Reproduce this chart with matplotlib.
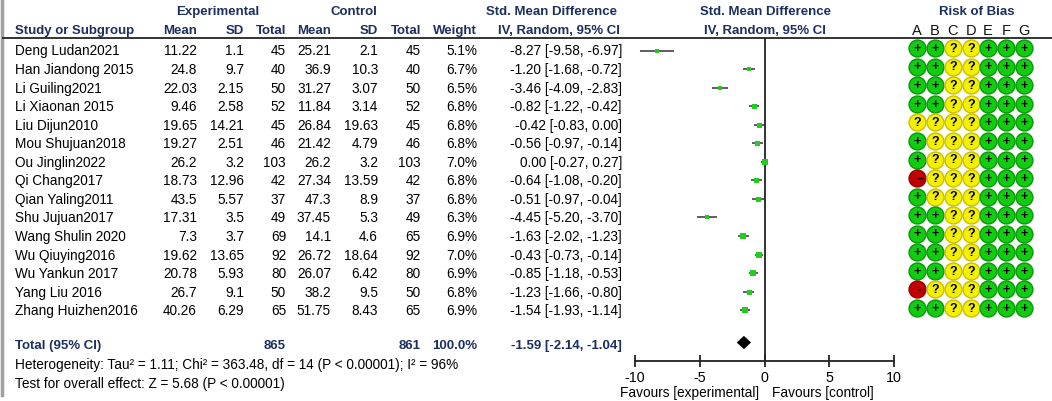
import numpy as np
import matplotlib.pyplot as plt

plt.rcParams['font.family'] = ['Liberation Sans', 'DejaVu Sans']
plt.rcParams['axes.unicode_minus'] = False

#============================================================================#
# DATA
studies = ["Deng Ludan2021", "Han Jiandong 2015", "Li Guiling2021", "Li Xiaonan 2015",
           "Liu Dijun2010", "Mou Shujuan2018", "Ou Jinglin2022", "Qi Chang2017",
           "Qian Yaling2011", "Shu Jujuan2017", "Wang Shulin 2020", "Wu Qiuying2016",
           "Wu Yankun 2017", "Yang Liu 2016", "Zhang Huizhen2016"]
exp_mean = [11.22, 24.8, 22.03, 9.46, 19.65, 19.27, 26.2, 18.73, 43.5, 17.31, 7.3, 19.62, 20.78, 26.7, 40.26]
exp_sd = [1.1, 9.7, 2.15, 2.58, 14.21, 2.51, 3.2, 12.96, 5.57, 3.5, 3.7, 13.65, 5.93, 9.1, 6.29]
exp_n = [45, 40, 50, 52, 45, 46, 103, 42, 37, 49, 69, 92, 80, 50, 65]
ctl_mean = [25.21, 36.9, 31.27, 11.84, 26.84, 21.42, 26.2, 27.34, 47.3, 37.45, 14.1, 26.72, 26.07, 38.2, 51.75]
ctl_sd = [2.1, 10.3, 3.07, 3.14, 19.63, 4.79, 3.2, 13.59, 8.9, 5.3, 4.6, 18.64, 6.42, 9.5, 8.43]
ctl_n = [45, 40, 50, 52, 45, 46, 103, 42, 37, 49, 65, 92, 80, 50, 65]
weight = [5.1, 6.7, 6.5, 6.8, 6.8, 6.8, 7.0, 6.8, 6.8, 6.3, 6.9, 7.0, 6.9, 6.8, 6.9]
smd = [-8.27, -1.20, -3.46, -0.82, -0.42, -0.56, 0.00, -0.64, -0.51, -4.45, -1.63, -0.43, -0.85, -1.23, -1.54]
ci_lo = [-9.58, -1.68, -4.09, -1.22, -0.83, -0.97, -0.27, -1.08, -0.97, -5.20, -2.02, -0.73, -1.18, -1.66, -1.93]
ci_hi = [-6.97, -0.72, -2.83, -0.42, 0.00, -0.14, 0.27, -0.20, -0.04, -3.70, -1.23, -0.14, -0.53, -0.80, -1.14]

total_exp = 865
total_ctl = 861
total_smd, total_lo, total_hi = -1.59, -2.14, -1.04

# risk of bias, columns A..G  (+ low, ? unclear, - high)
rob_cols = ["A", "B", "C", "D", "E", "F", "G"]
rob = ["++??+++", "++??+++", "++??+++", "++??+++", "????+++",
       "+???+++", "+???+++", "-???+++", "+???+++", "++??+++",
       "++??+++", "++??+++", "++??+++", "-???+++", "++??+++"]

xticks = [-10, -5, 0, 5, 10]

heterogeneity = "Heterogeneity: Tau\u00b2 = 1.11; Chi\u00b2 = 363.48, df = 14 (P < 0.00001); I\u00b2 = 96%"
overall = "Test for overall effect: Z = 5.68 (P < 0.00001)"

#============================================================================#
# LAYOUT (pixel columns, row units vertically)
W, H = 1052, 402
ROW0, DROW = 51.5, 18.55
def row(ypx):
    return (ypx - ROW0) / DROW

navy = '#1c2f5e'
fs = 9.8
hfs = 9.5

fig = plt.figure(figsize=(W / 100, H / 100), dpi=100)
tab = fig.add_axes([0, 0, 1, 1])
tab.set_xlim(0, W)
tab.set_ylim(row(H), row(0))
tab.axis('off')

# left border and header rule
tab.plot([1.5, 1.5], [row(0), row(396)], color='#a0a0a0', lw=2.5)
tab.plot([3, W], [row(38.5), row(38.5)], color='#333333', lw=1.4)

# headers
hdr = dict(fontsize=hfs, fontweight='bold', color=navy, va='center')
tab.text(218, row(12.5), "Experimental", ha='center', **hdr)
tab.text(354, row(12.5), "Control", ha='center', **hdr)
tab.text(551, row(12.5), "Std. Mean Difference", ha='center', **hdr)
tab.text(765, row(12.5), "Std. Mean Difference", ha='center', **hdr)
tab.text(977, row(12.5), "Risk of Bias", ha='center', **hdr)
tab.text(15, row(31), "Study or Subgroup", ha='left', **hdr)
col_x = [197, 244, 286, 331, 378, 421, 477]
for x, lab in zip(col_x, ["Mean", "SD", "Total", "Mean", "SD", "Total", "Weight"]):
    tab.text(x, row(31), lab, ha='right', **hdr)
tab.text(559, row(31), "IV, Random, 95% CI", ha='center', **hdr)
tab.text(765, row(31), "IV, Random, 95% CI", ha='center', **hdr)
rob_x = [917, 935, 953, 971, 988, 1006, 1024]
for x, lab in zip(rob_x, rob_cols):
    tab.text(x, row(31), lab, ha='center', fontsize=hfs + 1, color='#111111', va='center')

# study rows
for i, name in enumerate(studies):
    vals = [f"{exp_mean[i]:g}", f"{exp_sd[i]:g}", f"{exp_n[i]}",
            f"{ctl_mean[i]:g}", f"{ctl_sd[i]:g}", f"{ctl_n[i]}", f"{weight[i]:.1f}%"]
    tab.text(15, i, name, ha='left', va='center', fontsize=fs)
    for x, v in zip(col_x, vals):
        tab.text(x, i, v, ha='right', va='center', fontsize=fs)
    tab.text(622, i, f"{smd[i]:.2f} [{ci_lo[i]:.2f}, {ci_hi[i]:.2f}]",
             ha='right', va='center', fontsize=fs)

# total row
ytot = row(346)
tot = dict(fontsize=hfs, fontweight='bold', color=navy, va='center')
tab.text(15, ytot, "Total (95% CI)", ha='left', **tot)
tab.text(col_x[2], ytot, f"{total_exp}", ha='right', **tot)
tab.text(col_x[5], ytot, f"{total_ctl}", ha='right', **tot)
tab.text(col_x[6], ytot, "100.0%", ha='right', **tot)
tab.text(622, ytot, f"{total_smd:.2f} [{total_lo:.2f}, {total_hi:.2f}]", ha='right', **tot)
tab.text(15, row(365), heterogeneity, ha='left', va='center', fontsize=fs)
tab.text(15, row(384), overall, ha='left', va='center', fontsize=fs)

# risk of bias dots
fills = {'+': '#12cc12', '?': '#f4f000', '-': '#c00000'}
edges = {'+': '#089808', '?': '#cabf00', '-': '#a00000'}
for i, marks in enumerate(rob):
    for x, m in zip(rob_x, marks):
        tab.scatter(x, i - 0.12, s=148, color=fills[m], edgecolors=edges[m],
                    linewidths=1.0, zorder=3)
        if m == '-':
            tab.text(x + 4, i - 0.14, "\u2013", ha='center', va='center',
                     fontsize=8.5, fontweight='bold', zorder=4)
        else:
            tab.text(x, i - 0.14, m, ha='center', va='center',
                     fontsize=9, fontweight='bold', zorder=4)

#============================================================================#
# FOREST PANEL
fx0, fx1 = 635, 894
ax = fig.add_axes([fx0 / W, 0, (fx1 - fx0) / W, 1])
ax.set_xlim(-10, 10)
ax.set_ylim(row(H), row(0))
ax.patch.set_alpha(0)
for s in ['left', 'right', 'top']:
    ax.spines[s].set_visible(False)
ax.spines['bottom'].set_position(('data', row(362)))
ax.spines['bottom'].set_linewidth(1.3)
ax.spines['bottom'].set_color('#222222')
ax.set_yticks([])
ax.set_xticks(xticks)
ax.set_xticklabels([f"{t}" for t in xticks])
ax.tick_params(axis='x', direction='inout', length=9, width=1.3, labelsize=10.3,
               pad=2, color='#222222')

ax.vlines(0, row(38.5), row(362), color='#222222', lw=1.3)

ys = np.arange(len(studies))
ax.hlines(ys, ci_lo, ci_hi, color='#333333', lw=1.1, zorder=2)
msize = 3.6 * np.sqrt(np.array(weight) / 6.8)
for y, m, ms in zip(ys, smd, msize):
    ax.plot(m, y, 's', color='#22cc22', markersize=ms, markeredgewidth=0, zorder=3)

dh = 0.36
ax.fill([total_lo, total_smd, total_hi, total_smd],
        [row(343.5), row(343.5) - dh, row(343.5), row(343.5) + dh],
        color='black', lw=0, zorder=3)

tab.text(759, row(393), "Favours [experimental]", ha='right', va='center', fontsize=fs)
tab.text(772, row(393), "Favours [control]", ha='left', va='center', fontsize=fs)

fig.savefig('out.png', dpi=100)
